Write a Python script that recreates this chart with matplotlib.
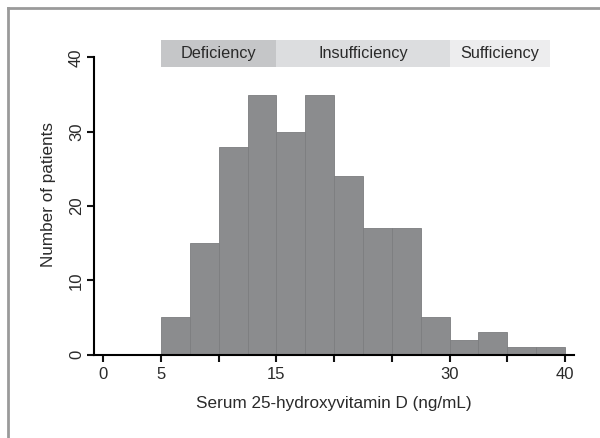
import matplotlib.pyplot as plt
from matplotlib.lines import Line2D

plt.rcParams['font.family'] = ['Liberation Sans', 'DejaVu Sans']

# histogram bins (left edges, width 2.5) and counts
bin_left = [5, 7.5, 10, 12.5, 15, 17.5, 20, 22.5, 25, 27.5, 30, 32.5, 35, 37.5]
counts = [5, 15, 28, 35, 30, 35, 24, 17, 17, 5, 2, 3, 1, 1]
bin_width = 2.5

# vitamin D status bands
band_names = ["Deficiency", "Insufficiency", "Sufficiency"]
band_start = [5, 15, 30]
band_end = [15, 30, 38.7]
band_colors = ["#c5c6c8", "#dcdddf", "#ededee"]

x_ticks = [0, 5, 10, 15, 20, 25, 30, 35, 40]
x_labels = ["0", "5", "", "15", "", "", "30", "", "40"]
y_ticks = [0, 10, 20, 30, 40]

fig = plt.figure(figsize=(6, 4.38), dpi=100)
ax = fig.add_axes([0.156, 0.1906, 0.801, 0.729])

ax.bar(bin_left, counts, width=bin_width, align="edge",
       color="#8b8c8e", edgecolor="#7c7d7f", linewidth=0.6, zorder=2)

for name, s, e, c in zip(band_names, band_start, band_end, band_colors):
    ax.axvspan(s, e, ymin=38.7 / 43, ymax=42.4 / 43, color=c, lw=0, zorder=1)
    ax.text((s + e) / 2, 40.55, name, ha="center", va="center",
            fontsize=11.7, color="#2a2a2a", zorder=3)

ax.set_xlim(-0.85, 40.8)
ax.set_ylim(0, 43)
ax.set_xticks(x_ticks)
ax.set_xticklabels(x_labels)
ax.set_yticks(y_ticks)
ax.set_yticklabels([str(v) for v in y_ticks], rotation=90, va="center")

ax.spines["top"].set_visible(False)
ax.spines["right"].set_visible(False)
ax.spines["left"].set_bounds(0, 40)
ax.spines["left"].set_linewidth(1.5)
ax.spines["bottom"].set_linewidth(1.5)
ax.tick_params(direction="out", length=5, width=1.5, labelsize=12,
               colors="#111111", labelcolor="#2a2a2a")
ax.tick_params(axis="x", pad=4)
ax.tick_params(axis="y", pad=2)

ax.set_xlabel("Serum 25-hydroxyvitamin D (ng/mL)", fontsize=12.3,
              labelpad=10, color="#2a2a2a")
ax.set_ylabel("Number of patients", fontsize=12.3, labelpad=9, color="#2a2a2a")

# outer frame of the figure panel
fig.add_artist(Line2D([8 / 600, 8 / 600], [0, 1 - 8 / 438],
                      transform=fig.transFigure, color="#9a9a9a", lw=2))
fig.add_artist(Line2D([8 / 600, 1], [1 - 8 / 438, 1 - 8 / 438],
                      transform=fig.transFigure, color="#9a9a9a", lw=2))

fig.savefig("out.png", dpi=100)
